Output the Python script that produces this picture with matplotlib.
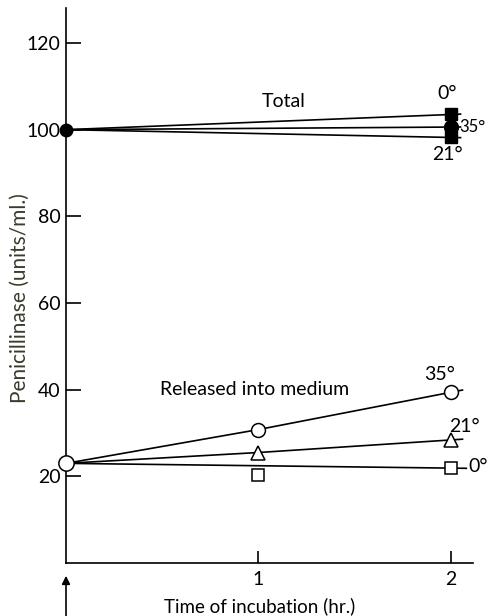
import numpy as np
import matplotlib
matplotlib.use('Agg')
import matplotlib.pyplot as plt

plt.rcParams['font.family'] = ['Lato', 'DejaVu Sans']

# dados
t_start = 0
total_start = 100
rel_start = 23

t_total = [0, 2]
total_0 = [100, 103.5]
total_35 = [100, 100.6]
total_21 = [100, 98.2]

t_rel = [0, 1, 2]
rel_35 = [23, 30.8, 39.4]
rel_21 = [23, 25.5, 28.4]
# linha do 0 graus vai direto de 0 a 2, o quadrado em 1 fica fora
t_rel0_line = [0, 2]
rel_0_line = [23, 21.9]
rel_0_pts = [20.2, 21.9]
t_rel0_pts = [1, 2]

yticks = [20, 40, 60, 80, 100, 120]
xticks = [1, 2]

fig = plt.figure(figsize=(4.89, 6.16), dpi=100)
ax = fig.add_axes([0.135, 0.086, 0.832, 0.9005])
ax.set_xlim(0, 2.114)
ax.set_ylim(0, 128)

lw = 1.2
k = 'black'

def tail(x, y, dx=0.06):
    # pequeno prolongamento depois do ultimo ponto
    s = (y[-1] - y[-2]) / (x[-1] - x[-2])
    ax.plot([x[-1], x[-1] + dx], [y[-1], y[-1] + s * dx], color=k, lw=lw, clip_on=False)

# total
for vals in (total_0, total_35, total_21):
    ax.plot(t_total, vals, color=k, lw=lw, zorder=2)
    tail(t_total, vals, dx=0.05)
ax.plot(t_total[-1], total_21[-1], 's', ms=9, color=k, zorder=3)
ax.plot(t_total[-1], total_35[-1], 'o', ms=10, color=k, zorder=3)
ax.plot(t_total[-1], total_0[-1], 's', ms=9, color=k, zorder=3)
ax.plot(t_start, total_start, 'o', ms=9, color=k, clip_on=False, zorder=4)

# liberado no meio
ax.plot(t_rel, rel_35, color=k, lw=lw, zorder=2)
tail(t_rel, rel_35)
ax.plot(t_rel[1:], rel_35[1:], 'o', ms=10, mfc='white', mec=k, mew=1.1, zorder=3)
ax.plot(t_rel, rel_21, color=k, lw=lw, zorder=2)
tail(t_rel, rel_21)
ax.plot(t_rel[1:], rel_21[1:], '^', ms=10, mfc='white', mec=k, mew=1.1, zorder=3)
ax.plot(t_rel0_line, rel_0_line, color=k, lw=lw, zorder=2)
tail(t_rel0_line, rel_0_line, dx=0.08)
ax.plot(t_rel0_pts, rel_0_pts, 's', ms=9, mfc='white', mec=k, mew=1.1, zorder=3)
ax.plot(t_start, rel_start, 'o', ms=11, mfc='white', mec=k, mew=1.1, clip_on=False, zorder=4)

fs = 14
ax.text(1.13, 104.5, 'Total', fontsize=fs, ha='center', va='bottom')
ax.text(1.98, 106.3, '0°', fontsize=fs, ha='center', va='bottom')
ax.text(2.045, 100.6, '35°', fontsize=12, ha='left', va='center')
ax.text(1.98, 96.3, '21°', fontsize=fs, ha='center', va='top')
ax.text(0.98, 40, 'Released into medium', fontsize=fs, ha='center', va='center')
ax.text(1.94, 41.5, '35°', fontsize=fs, ha='center', va='bottom')
ax.text(2.07, 31.5, '21°', fontsize=fs, ha='center', va='center')
ax.text(2.09, 22.3, '0°', fontsize=fs, ha='left', va='center')

for s in ('top', 'right'):
    ax.spines[s].set_visible(False)
ax.spines['left'].set_linewidth(1.2)
ax.spines['bottom'].set_linewidth(1.2)

ax.set_yticks(yticks)
ax.set_xticks(xticks)
ax.tick_params(axis='y', direction='in', length=11, width=1.2, pad=4, labelsize=14)
ax.tick_params(axis='x', direction='in', length=9, width=1.2, pad=6, labelsize=14)

ax.set_ylabel('Penicillinase (units/ml.)', fontsize=15, color='#3b3b2c')
ax.yaxis.set_label_coords(-0.088, 0.478)
ax.set_xlabel('Time of incubation (hr.)', fontsize=13.5)
ax.xaxis.set_label_coords(0.475, -0.062)

# seta embaixo do eixo no tempo zero
ax.annotate('', xy=(0, -0.018), xycoords=('data', 'axes fraction'),
            xytext=(0, -0.1), textcoords=('data', 'axes fraction'),
            arrowprops=dict(arrowstyle='-|>', color=k, lw=1.2, mutation_scale=12))

fig.savefig('out.png', dpi=100)
